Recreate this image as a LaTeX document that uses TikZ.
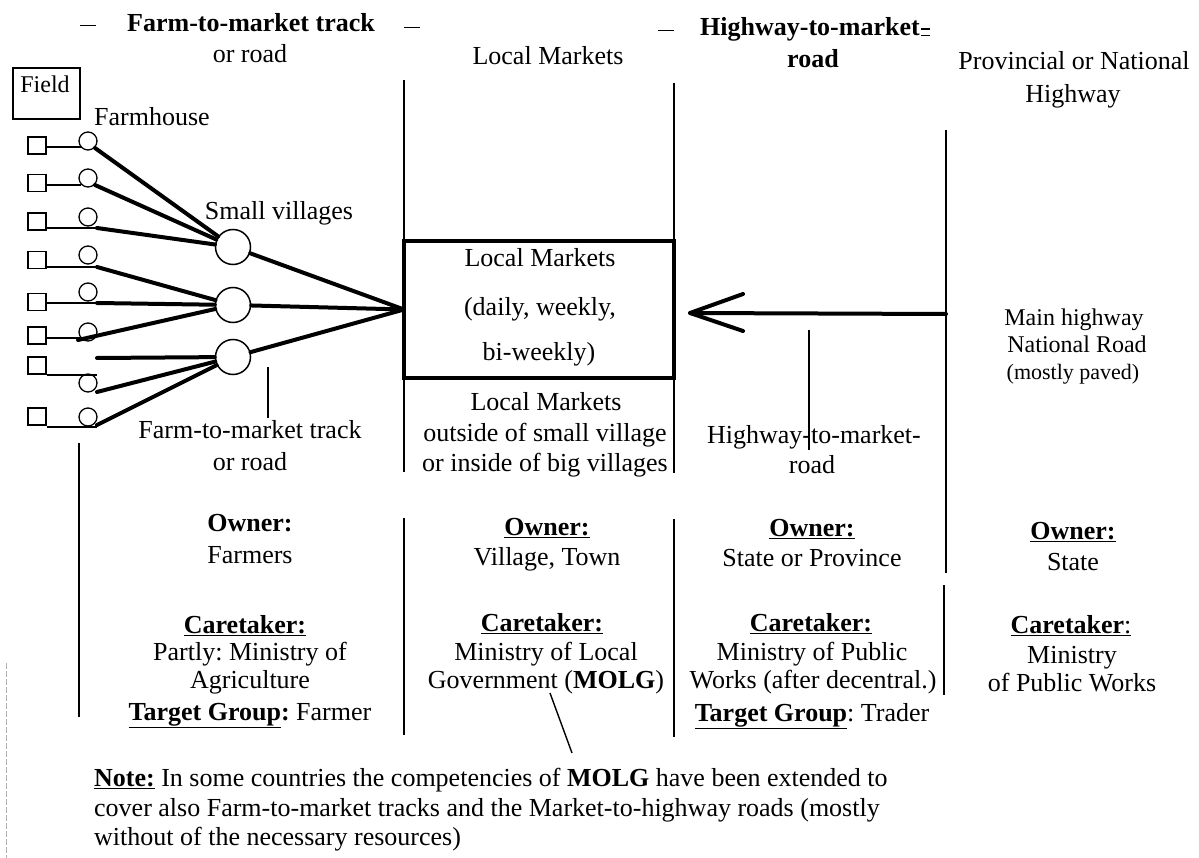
\documentclass[tikz,border=0pt]{standalone}
\usepackage{fontspec}
\setmainfont{Liberation Serif}
\frenchspacing
\begin{document}
\begin{tikzpicture}[x=1pt,y=-1pt,
  t/.style={font=\fontsize{26}{30}\selectfont, inner sep=0pt, anchor=base},
  tb/.style={t, font=\fontsize{26}{30}\selectfont\bfseries},
  ts/.style={t, font=\fontsize{24}{28}\selectfont},
  txs/.style={t, font=\fontsize{22}{26}\selectfont},
  thinln/.style={line width=1.4pt},
  road/.style={line width=4pt, line cap=round, line join=round},
  plot/.style={draw, line width=1.2pt, minimum width=18pt, minimum height=17pt, inner sep=0pt},
  farm/.style={draw, circle, line width=1.3pt, minimum size=18pt, inner sep=0pt},
  village/.style={draw, circle, line width=1.5pt, minimum size=35pt, inner sep=0pt},
  dashmark/.style={inner sep=0pt, anchor=base},
]
\useasboundingbox (0,0) rectangle (1199,858);

% ---------- header ----------
\node[dashmark] (d1) at (88,33) {\rule[6.5pt]{16pt}{1.5pt}};
\node[tb] (h1) at (251,32) {Farm-to-market track};
\node[dashmark] (d2) at (412,35) {\rule[6.5pt]{16pt}{1.5pt}};
\node[t] (h1b) at (250,63) {or road};
\node[t] (h2) at (548,65) {Local Markets};
\node[dashmark] (d3) at (666,38) {\rule[6.5pt]{16pt}{1.5pt}};
\node[tb, anchor=base west] (h3) at (700,36) {Highway-to-market};
\draw[line width=1.6pt] (921,29) -- (930,29) (921,35.5) -- (930,35.5);
\node[tb] (h3b) at (813,68) {road};
\node[t] (h4) at (1074,70) {Provincial or National};
\node[t] (h4b) at (1073,103) {Highway};

% ---------- field & farmhouse legend ----------
\node[draw, line width=1.2pt, minimum width=67pt, minimum height=51pt, inner sep=0pt] (fieldbox) at (46.5,93.5) {};
\node[ts] (fieldtxt) at (45,93) {Field};
\node[t] (farmtxt) at (152,126) {Farmhouse};
\node[t] (villtxt) at (279,220) {Small villages};

% ---------- fields (squares) ----------
\node[plot] (f1) at (37,145.5) {};
\node[plot] (f2) at (37,183) {};
\node[plot] (f3) at (37,221.5) {};
\node[plot] (f4) at (37,260) {};
\node[plot] (f5) at (37,302) {};
\node[plot] (f6) at (37,335.5) {};
\node[plot] (f7) at (37,365.5) {};
\node[plot] (f8) at (37,416.5) {};

% ---------- farmhouses (small circles) ----------
\node[farm] (c1) at (88,141) {};
\node[farm] (c2) at (88,178) {};
\node[farm] (c3) at (88,217) {};
\node[farm] (c4) at (88,255) {};
\node[farm] (c5) at (88,292) {};
\node[farm] (c6) at (88,332) {};
\node[farm] (c7) at (88,383) {};
\node[farm] (c8) at (88,417) {};

% ---------- villages ----------
\node[village] (v1) at (233,247) {};
\node[village] (v2) at (233,305) {};
\node[village] (v3) at (233,357) {};

% ---------- market box ----------
\node[draw, line width=4pt, outer sep=0pt, minimum width=270pt, minimum height=137pt, inner sep=0pt] (mk) at (539,309.5) {};
\node[t] (mk1) at (540,267) {Local Markets};
\node[t] (mk2) at (540,316) {(daily, weekly,};
\node[t] (mk3) at (539,361) {bi-weekly)};

% ---------- thin field-to-farmhouse links ----------
\coordinate (s1) at (81,147);
\coordinate (s2) at (81,185);
\coordinate (s3) at (97,228);
\coordinate (s4) at (97,267);
\coordinate (s5) at (97,303);
\coordinate (s6) at (80,338);
\coordinate (s7) at (97,375);
\coordinate (s8) at (97,427);
\foreach \i in {1,...,8} { \draw[thinln] (f\i.east |- s\i) -- (s\i); }

% ---------- farm-to-market tracks ----------
\coordinate (t1) at (95,148);
\coordinate (t2) at (95,185);
\coordinate (t3) at (97,228);
\coordinate (t4) at (97,267);
\coordinate (t5) at (97,303);
\coordinate (t6) at (78,340);
\coordinate (t7) at (97,358);
\coordinate (t8) at (97,392);
\coordinate (t9) at (97,425);
\draw[road] (t1) -- (v1);
\draw[road] (t2) -- (v1);
\draw[road] (t3) -- (v1);
\draw[road] (t4) -- (v2);
\draw[road] (t5) -- (v2);
\draw[road] (t6) -- (v2);
\draw[road] (t7) -- (v3);
\draw[road] (t8) -- (v3);
\draw[road] (t9) -- (v3);
\draw[road] (v1) -- (mk.west);
\draw[road] (v2) -- (mk.west);
\draw[road] (v3) -- (mk.west);

% ---------- highway-to-market arrow ----------
\coordinate (hj) at (946,314);
\coordinate (tip) at (690,313);
\draw[road] (hj) -- (tip);
\draw[road] (743,294) -- (tip) -- (743,331);

% ---------- column rules ----------
\draw[thinln] (404,80) -- (mk.north west);
\draw[thinln] (674,83) -- (mk.north east);
\draw[thinln] (mk.south west) -- (404,472);
\draw[thinln] (mk.south east) -- (674,473);
\draw[thinln] (404,518) -- (404,735);
\draw[thinln] (674,519) -- (674,737);
\draw[thinln] (946,130) -- (946,573);
\draw[thinln] (944,585) -- (944,695);
\draw[thinln] (79,443) -- (79,717);
\draw[thinln] (268,367) -- (268,418);
\draw[thinln] (809,330) -- (809,450);
\draw[gray!60, line width=0.8pt, dash pattern=on 6pt off 2pt] (6,663) -- (6,858);

% ---------- road labels ----------
\node[t] (lm1) at (546,410) {Local Markets};
\node[t] (lm2) at (545,441) {outside of small village};
\node[t] (lm3) at (545,471) {or inside of big villages};
\node[t] (ft1) at (250,438) {Farm-to-market track};
\node[t] (ft2) at (250,470) {or road};
\node[t] (hm1) at (814,443) {Highway-to-market-};
\node[t] (hm2) at (812,473) {road};
\node[ts] (mh1) at (1074,326) {Main highway};
\node[ts] (mh2) at (1077,353) {National Road};
\node[txs] (mh3) at (1073,380) {(mostly paved)};

% ---------- owners ----------
\node[tb] (o1) at (250,531) {Owner:};
\node[t] (o1b) at (250,563) {Farmers};
\node[tb] (o2) at (547,535) {\underline{Owner:}};
\node[t] (o2b) at (547,565) {Village, Town};
\node[tb] (o3) at (812,536) {\underline{Owner:}};
\node[t] (o3b) at (812,566) {State or Province};
\node[tb] (o4) at (1073,539) {\underline{Owner:}};
\node[t] (o4b) at (1073,570) {State};

% ---------- caretakers ----------
\node[tb] (k1) at (245,633) {\underline{Caretaker:}};
\node[t] (k1b) at (250,660) {Partly: Ministry of};
\node[t] (k1c) at (250,688) {Agriculture};
\node[t] (k1d) at (250,720) {\underline{\textbf{Target Group}}\textbf{:} Farmer};
\node[tb] (k2) at (542,631) {\underline{Caretaker:}};
\node[t] (k2b) at (546,660) {Ministry of Local};
\node[t] (k2c) at (546,688) {Government (\textbf{MOLG})};
\node[tb] (k3) at (811,631) {\underline{Caretaker:}};
\node[t] (k3b) at (812,660) {Ministry of Public};
\node[t] (k3c) at (813,688) {Works (after decentral.)};
\node[t] (k3d) at (812,721) {\underline{\textbf{Target Group}}: Trader};
\node[tb] (k4) at (1071,633) {\underline{Caretaker\textmd{:}}};
\node[t] (k4b) at (1072,663) {Ministry};
\node[t] (k4c) at (1072,691) {of Public Works};

% ---------- note ----------
\coordinate (pm) at (550,693);
\coordinate (pn) at (572,753);
\draw[thinln] (pm) -- (pn);
\node[t, anchor=base west] (n1) at (94,786) {\underline{\textbf{Note:}} In some countries the competencies of \textbf{MOLG} have been extended to};
\node[t, anchor=base west] (n2) at (94,816) {cover also Farm-to-market tracks and the Market-to-highway roads (mostly};
\node[t, anchor=base west] (n3) at (94,845) {without of the necessary resources)};
\end{tikzpicture}
\end{document}
